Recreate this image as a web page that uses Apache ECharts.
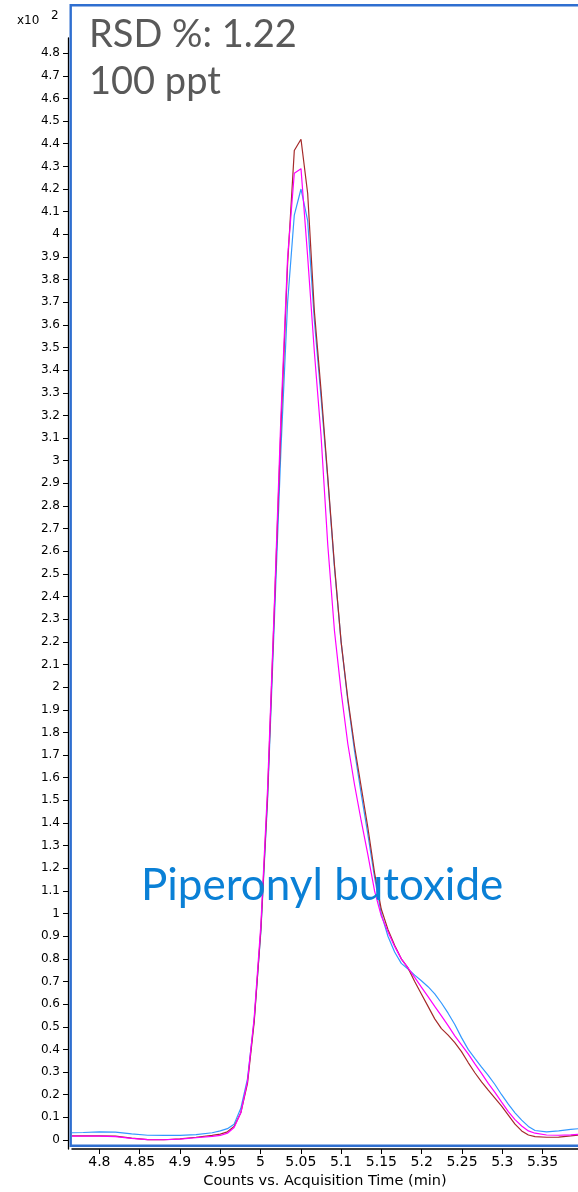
<!DOCTYPE html>
<html>
<head>
<meta charset="utf-8">
<script src="https://cdn.jsdelivr.net/npm/echarts@6/dist/echarts.min.js"></script>
<style>
html,body{margin:0;padding:0;background:#fff;}
#chart{width:578px;height:1192px;}
</style>
</head>
<body>
<div id="chart"></div>
<script>
// Acquisition time (min)
var times = [4.766, 4.78, 4.80, 4.82, 4.84, 4.86, 4.88, 4.90, 4.92, 4.94, 4.95,
  4.9589, 4.9672, 4.9755, 4.9838, 4.9921, 5.0004, 5.0087, 5.017, 5.0253, 5.0336,
  5.0419, 5.0502, 5.0585, 5.0668, 5.0751, 5.0834, 5.0917, 5.1, 5.1083, 5.1166,
  5.1249, 5.1332, 5.1415, 5.1498, 5.1581, 5.1664, 5.1747, 5.183, 5.1913, 5.1996,
  5.2079, 5.2162, 5.2245, 5.2328, 5.2411, 5.2494, 5.2577, 5.266, 5.2743, 5.2826,
  5.2909, 5.2992, 5.3075, 5.3158, 5.3241, 5.3324, 5.3407, 5.355, 5.37, 5.385, 5.395];

// Counts (x10^2)
var blueRun = [0.032, 0.033, 0.036, 0.035, 0.027, 0.021, 0.020, 0.020, 0.024, 0.032, 0.040,
  0.050, 0.070, 0.140, 0.270, 0.530, 0.920, 1.50, 2.28, 3.05, 3.70,
  4.085, 4.20, 4.06, 3.62, 3.28, 2.92, 2.53, 2.20, 1.94, 1.72,
  1.53, 1.35, 1.16, 1.00, 0.90, 0.83, 0.78, 0.755, 0.728, 0.703,
  0.677, 0.645, 0.605, 0.56, 0.51, 0.452, 0.40, 0.36, 0.322, 0.285,
  0.245, 0.20, 0.158, 0.12, 0.088, 0.06, 0.042, 0.036, 0.040, 0.047, 0.050];

var magentaRun = [0.017, 0.017, 0.017, 0.015, 0.007, 0.002, 0.001, 0.004, 0.010, 0.016, 0.020,
  0.030, 0.055, 0.120, 0.260, 0.540, 0.950, 1.55, 2.35, 3.20, 3.90,
  4.27, 4.29, 3.90, 3.48, 3.11, 2.63, 2.25, 1.98, 1.75, 1.57,
  1.41, 1.26, 1.10, 0.99, 0.92, 0.855, 0.80, 0.76, 0.718, 0.675,
  0.633, 0.59, 0.548, 0.505, 0.46, 0.42, 0.38, 0.336, 0.294, 0.25,
  0.21, 0.167, 0.125, 0.09, 0.062, 0.04, 0.03, 0.022, 0.021, 0.023, 0.025];

var brownRun = [0.018, 0.018, 0.018, 0.017, 0.008, 0.002, 0.001, 0.005, 0.012, 0.020, 0.026,
  0.036, 0.060, 0.120, 0.250, 0.520, 0.930, 1.52, 2.33, 3.15, 3.87,
  4.37, 4.42, 4.18, 3.66, 3.31, 2.93, 2.54, 2.20, 1.95, 1.74,
  1.56, 1.38, 1.18, 1.02, 0.93, 0.86, 0.80, 0.76, 0.70, 0.645,
  0.59, 0.535, 0.492, 0.463, 0.43, 0.39, 0.342, 0.297, 0.257, 0.22,
  0.185, 0.15, 0.11, 0.07, 0.04, 0.022, 0.015, 0.012, 0.013, 0.018, 0.022];

var yTicks = [0, 0.1, 0.2, 0.3, 0.4, 0.5, 0.6, 0.7, 0.8, 0.9, 1, 1.1, 1.2, 1.3, 1.4, 1.5,
  1.6, 1.7, 1.8, 1.9, 2, 2.1, 2.2, 2.3, 2.4, 2.5, 2.6, 2.7, 2.8, 2.9, 3, 3.1, 3.2, 3.3,
  3.4, 3.5, 3.6, 3.7, 3.8, 3.9, 4, 4.1, 4.2, 4.3, 4.4, 4.5, 4.6, 4.7, 4.8];
var xTicks = [4.8, 4.85, 4.9, 4.95, 5, 5.05, 5.1, 5.15, 5.2, 5.25, 5.3, 5.35];

function pairs(vals) { return times.map(function (t, i) { return [t, vals[i]]; }); }
function fmt(v) { return String(parseFloat(Number(v).toFixed(2))); }

var chart = echarts.init(document.getElementById('chart'), null, {renderer: 'canvas'});
var axisFont = 'DejaVu Sans, Arial, sans-serif';
chart.setOption({
  animation: false,
  backgroundColor: '#ffffff',
  grid: {left: 72, right: 0, top: 38, bottom: 43, containLabel: false, outerBoundsMode: 'none'},
  xAxis: {
    type: 'value', min: 4.766, max: 5.394,
    axisLine: {show: true, onZero: false, lineStyle: {color: '#000', width: 1.5}},
    axisTick: {show: true, length: 5, customValues: xTicks, lineStyle: {color: '#000', width: 1}},
    axisLabel: {customValues: xTicks, formatter: fmt, fontSize: 14, color: '#000', margin: 6, fontFamily: axisFont},
    splitLine: {show: false},
    name: 'Counts vs. Acquisition Time (min)', nameLocation: 'middle', nameGap: 25,
    nameTextStyle: {fontSize: 14.5, color: '#000', fontFamily: axisFont}
  },
  yAxis: {
    type: 'value', min: -0.0398, max: 4.867, offset: 4,
    axisLine: {show: true, onZero: false, lineStyle: {color: '#000', width: 1.3}},
    axisTick: {show: true, length: 5, customValues: yTicks, lineStyle: {color: '#000', width: 1}},
    axisLabel: {customValues: yTicks, formatter: fmt, fontSize: 12, color: '#000', margin: 8, fontFamily: axisFont},
    splitLine: {show: false}
  },
  series: [
    {type: 'line', data: pairs(blueRun), showSymbol: false, lineStyle: {color: '#3399ff', width: 1.2}, z: 2},
    {type: 'line', data: pairs(brownRun), showSymbol: false, lineStyle: {color: '#a52a2a', width: 1.2}, z: 3},
    {type: 'line', data: pairs(magentaRun), showSymbol: false, lineStyle: {color: '#ff00ff', width: 1.2}, z: 4}
  ],
  graphic: [
    {type: 'rect', shape: {x: 70.7, y: 5.3, width: 520, height: 1140.5}, style: {fill: 'none', stroke: '#2f6fd0', lineWidth: 2.4}, z: 10},
    {type: 'text', left: 17, top: 15, style: {text: 'x10', fill: '#000', font: '12px DejaVu Sans, Arial'}, z: 10},
    {type: 'text', left: 51, top: 10, style: {text: '2', fill: '#000', font: '12px DejaVu Sans, Arial'}, z: 10},
    {type: 'text', left: 89, top: 16, style: {text: 'RSD %: 1.22', fill: '#595959', font: '38px Lato, Open Sans, sans-serif'}, z: 10},
    {type: 'text', left: 89, top: 63, style: {text: '100 ppt', fill: '#595959', font: '38px Lato, Open Sans, sans-serif'}, z: 10},
    {type: 'text', left: 141, top: 864, style: {text: 'Piperonyl butoxide', fill: '#0a80d6', font: '44px Lato, Open Sans, sans-serif'}, z: 10}
  ]
});
</script>
</body>
</html>
